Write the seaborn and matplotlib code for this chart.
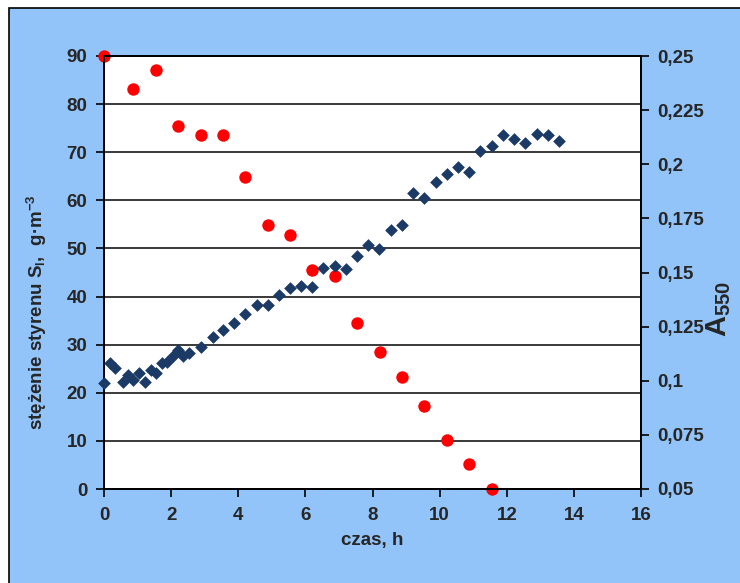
import matplotlib
matplotlib.use("Agg")
import matplotlib.pyplot as plt
from matplotlib.patches import Rectangle
from matplotlib.ticker import FixedLocator, FixedFormatter
import seaborn as sns
import pandas as pd

# styrene concentration in the liquid (left axis)
czas_styren = [0.00, 0.87, 1.54, 2.19, 2.88, 3.54, 4.21, 4.89, 5.54, 6.21,
               6.87, 7.55, 8.22, 8.87, 9.54, 10.21, 10.89, 11.55]
styren = [90.0, 83.2, 87.0, 75.5, 73.5, 73.6, 64.9, 54.9, 52.8, 45.6,
          44.2, 34.4, 28.4, 23.3, 17.3, 10.1, 5.3, 0.0]

# optical density A550 (right axis)
czas_a550 = [0.00, 0.19, 0.34, 0.56, 0.72, 0.87, 1.05, 1.22, 1.39, 1.55,
             1.72, 1.87, 2.05, 2.21, 2.36, 2.54, 2.88, 3.24, 3.55, 3.87,
             4.20, 4.55, 4.88, 5.21, 5.54, 5.87, 6.21, 6.54, 6.88, 7.21,
             7.54, 7.88, 8.19, 8.55, 8.88, 9.22, 9.54, 9.88, 10.21, 10.55,
             10.88, 11.20, 11.55, 11.88, 12.22, 12.54, 12.89, 13.22, 13.55]
a550 = [0.0988, 0.1082, 0.1061, 0.0996, 0.1027, 0.1004, 0.1034, 0.0996, 0.1050, 0.1034,
        0.1081, 0.1088, 0.1114, 0.1142, 0.1114, 0.1130, 0.1157, 0.1204, 0.1234, 0.1268,
        0.1308, 0.1349, 0.1349, 0.1396, 0.1427, 0.1438, 0.1435, 0.1519, 0.1528, 0.1515,
        0.1576, 0.1627, 0.1607, 0.1696, 0.1718, 0.1866, 0.1845, 0.1916, 0.1955, 0.1987,
        0.1966, 0.2062, 0.2085, 0.2137, 0.2115, 0.2097, 0.2138, 0.2137, 0.2106]

x_ticks = [0, 2, 4, 6, 8, 10, 12, 14, 16]
left_ticks = [0, 10, 20, 30, 40, 50, 60, 70, 80, 90]
right_ticks = [0.05, 0.075, 0.1, 0.125, 0.15, 0.175, 0.2, 0.225, 0.25]
right_labels = ["0,05", "0,075", "0,1", "0,125", "0,15", "0,175", "0,2", "0,225", "0,25"]

BG = "#92C4FA"
RED = "#FF0000"
NAVY = "#1B3A66"
FS = 13.5

sns.set_style("white")
plt.rcParams["font.family"] = ["Liberation Sans", "DejaVu Sans"]
plt.rcParams["font.weight"] = "bold"
plt.rcParams["mathtext.fontset"] = "custom"
plt.rcParams["mathtext.rm"] = "Liberation Sans:bold"
plt.rcParams["mathtext.it"] = "Liberation Sans:bold"
plt.rcParams["mathtext.bf"] = "Liberation Sans:bold"
plt.rcParams["mathtext.default"] = "rm"

W, H = 740, 583
fig = plt.figure(figsize=(W / 100, H / 100), dpi=100, facecolor="white")
fig.patches.append(Rectangle((9 / W, -0.01), 1.0, 1.01 - 8 / H, transform=fig.transFigure,
                             facecolor=BG, edgecolor="black", linewidth=1.2, zorder=-5))

ax = fig.add_axes([104 / W, 1 - 489 / H, (641 - 104) / W, (489 - 56) / H])
ax.set_facecolor("white")
ax2 = ax.twinx()

df_s = pd.DataFrame({"czas": czas_styren, "S": styren})
df_a = pd.DataFrame({"czas": czas_a550, "A": a550})

sns.scatterplot(data=df_s, x="czas", y="S", ax=ax, color=RED, marker="o", s=80,
                linewidth=0, clip_on=False, zorder=4)
sns.scatterplot(data=df_a, x="czas", y="A", ax=ax2, color=NAVY, marker="D", s=42,
                linewidth=0, clip_on=False, zorder=4)

ax.set_xlim(0, 16)
ax.set_ylim(0, 90)
ax2.set_ylim(0.05, 0.25)

ax.xaxis.set_major_locator(FixedLocator(x_ticks))
ax.yaxis.set_major_locator(FixedLocator(left_ticks))
ax2.yaxis.set_major_locator(FixedLocator(right_ticks))
ax2.yaxis.set_major_formatter(FixedFormatter(right_labels))

ax.yaxis.grid(True, color="#2a2a2a", linewidth=1.3)
ax.xaxis.grid(False)
ax2.grid(False)
ax.set_axisbelow(True)

for a in (ax, ax2):
    for sp in a.spines.values():
        sp.set_visible(True)
        sp.set_color("black")
        sp.set_linewidth(1.4)

ax.tick_params(axis="both", which="major", direction="out", length=6, width=1.2,
               color="black", labelsize=FS, pad=6)
ax.tick_params(axis="x", pad=7)
ax2.tick_params(axis="y", direction="out", length=6, width=1.2, color="black",
                labelsize=FS, pad=6)
ax.tick_params(axis="y", left=True)
ax.tick_params(axis="x", bottom=True)
ax2.tick_params(axis="y", right=True)

ax.set_xlabel("czas, h", fontsize=FS, fontweight="bold", labelpad=6)
ax.set_ylabel("stężenie styrenu S$_{l}$,  g·m$^{-3}$", fontsize=FS, fontweight="bold")
ax2.set_ylabel("A$_{550}$", fontsize=21, fontweight="bold")

for lab in (ax.yaxis.label, ax2.yaxis.label):
    lab.set_rotation(90)
    lab.set_rotation_mode("default")
    lab.set_horizontalalignment("center")
    lab.set_verticalalignment("center")
ax.yaxis.set_label_coords(-0.125, 0.409)
ax2.yaxis.set_label_coords(1.145, 0.415)

fig.savefig("out.png", dpi=100, facecolor=fig.get_facecolor())
